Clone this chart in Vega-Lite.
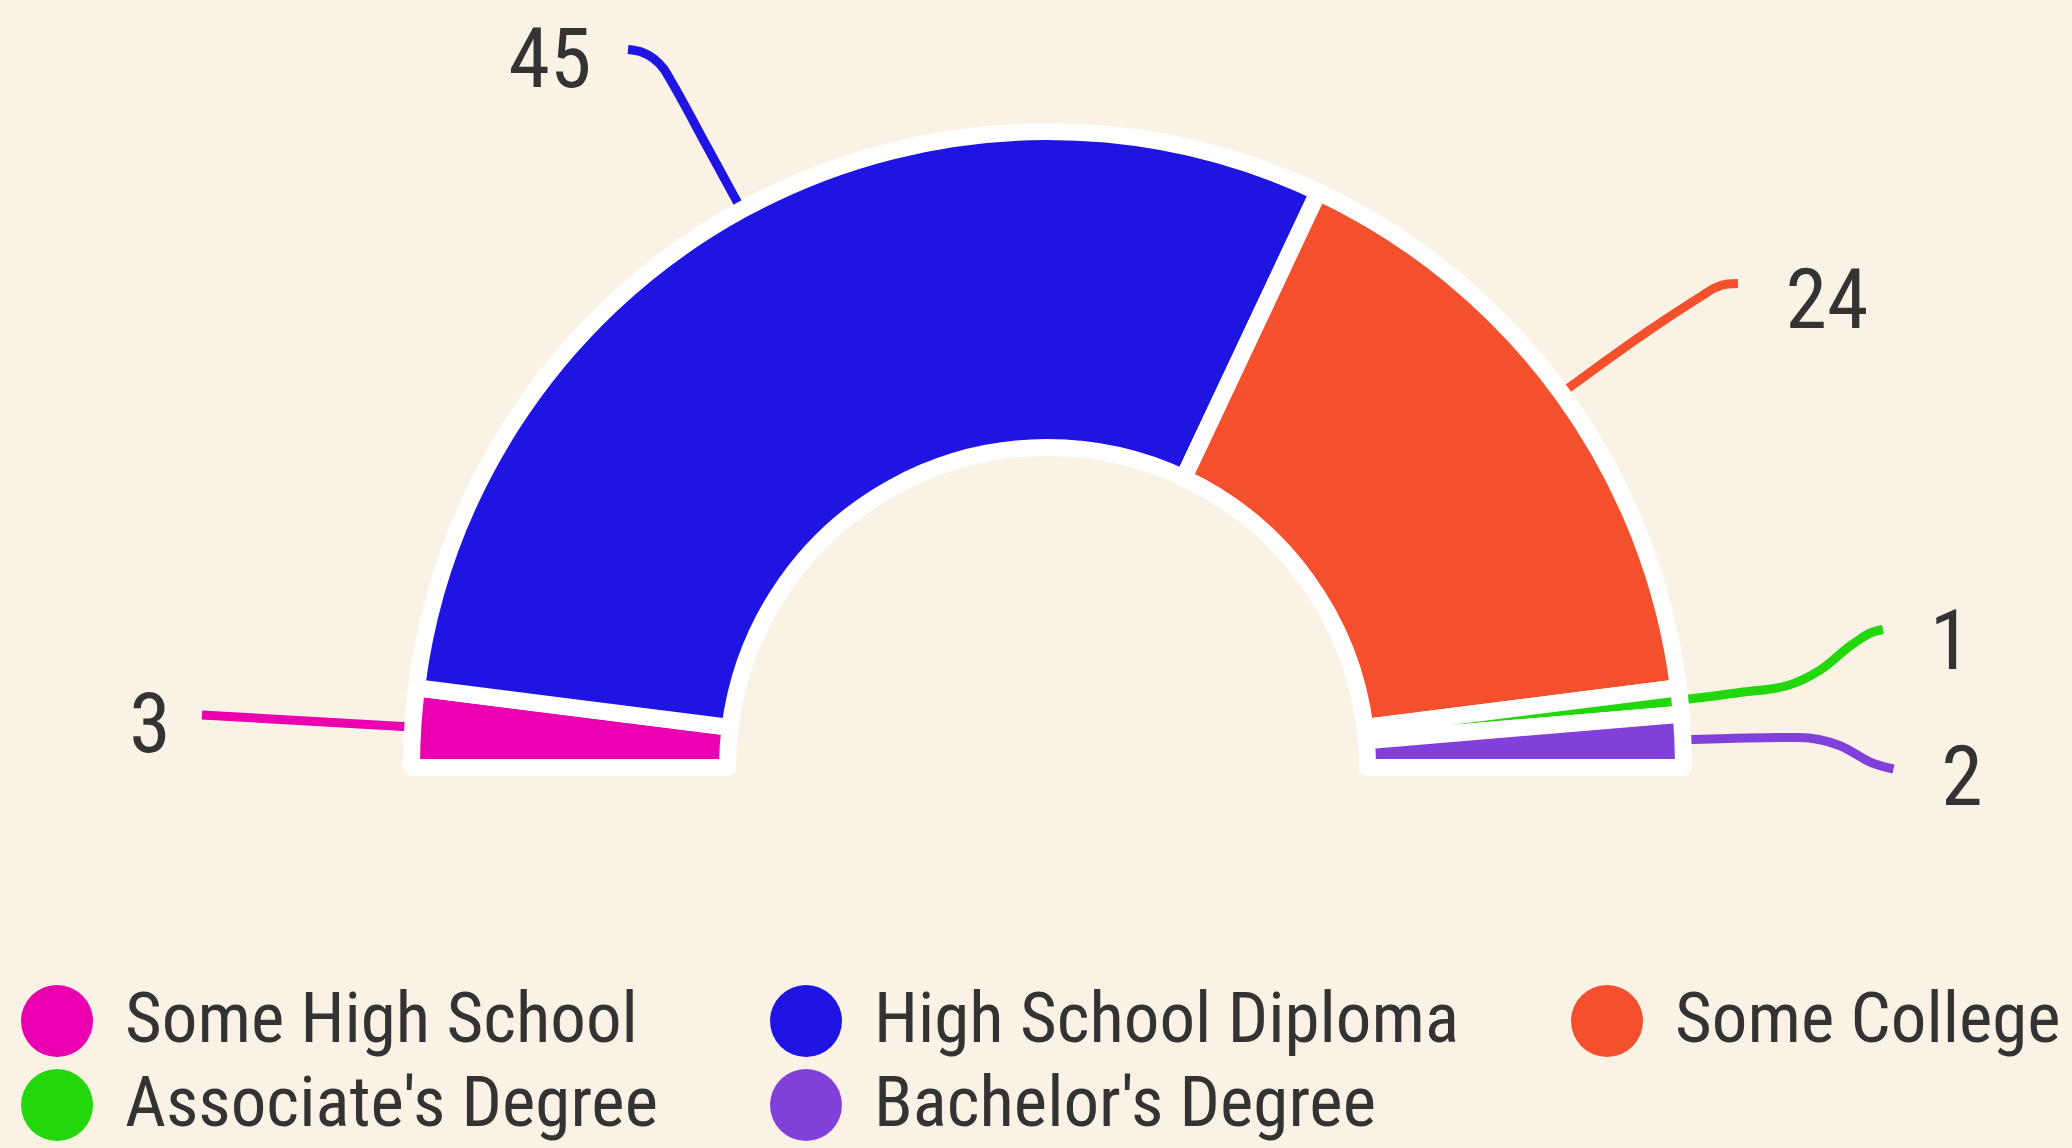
{
  "$schema": "https://vega.github.io/schema/vega-lite/v6.json",
  "width": 2072,
  "height": 1148,
  "padding": 0,
  "autosize": {"type": "none"},
  "background": "#FAF2E4",
  "config": {
    "view": {"stroke": null},
    "font": "'Roboto Condensed', 'Liberation Sans Narrow', Roboto, sans-serif"
  },
  "datasets": {
    "segments": [
      {"level": "Some High School", "count": 3, "rank": 1},
      {"level": "High School Diploma", "count": 45, "rank": 2},
      {"level": "Some College", "count": 24, "rank": 3},
      {"level": "Associate's Degree", "count": 1, "rank": 4},
      {"level": "Bachelor's Degree", "count": 2, "rank": 5}
    ],
    "leaders": [
      {"level": "Some High School", "x": -845.5, "y": 52.5},
      {"level": "Some High School", "x": -636, "y": 40.5},
      {"level": "High School Diploma", "x": -419.5, "y": 718},
      {"level": "High School Diploma", "x": -406, "y": 715.5},
      {"level": "High School Diploma", "x": -394, "y": 709},
      {"level": "High School Diploma", "x": -384, "y": 699},
      {"level": "High School Diploma", "x": -375, "y": 684},
      {"level": "High School Diploma", "x": -340, "y": 620},
      {"level": "High School Diploma", "x": -307.5, "y": 560.5},
      {"level": "Some College", "x": 518.5, "y": 377.5},
      {"level": "Some College", "x": 600, "y": 436},
      {"level": "Some College", "x": 655, "y": 472},
      {"level": "Some College", "x": 668, "y": 480},
      {"level": "Some College", "x": 680, "y": 483.5},
      {"level": "Some College", "x": 690.5, "y": 484},
      {"level": "Associate's Degree", "x": 630, "y": 67},
      {"level": "Associate's Degree", "x": 692.5, "y": 75},
      {"level": "Associate's Degree", "x": 740, "y": 82},
      {"level": "Associate's Degree", "x": 772, "y": 97},
      {"level": "Associate's Degree", "x": 806, "y": 124},
      {"level": "Associate's Degree", "x": 824, "y": 135},
      {"level": "Associate's Degree", "x": 835.5, "y": 138},
      {"level": "Bachelor's Degree", "x": 634, "y": 27.5},
      {"level": "Bachelor's Degree", "x": 700, "y": 29.5},
      {"level": "Bachelor's Degree", "x": 752, "y": 30},
      {"level": "Bachelor's Degree", "x": 792, "y": 22},
      {"level": "Bachelor's Degree", "x": 826, "y": 4},
      {"level": "Bachelor's Degree", "x": 846, "y": -1.5}
    ],
    "labels": [
      {"level": "Some High School", "count": 3, "x": -897.5, "y": 40.5},
      {"level": "High School Diploma", "count": 45, "x": -497.5, "y": 705.5},
      {"level": "Some College", "count": 24, "x": 779.5, "y": 465},
      {"level": "Associate's Degree", "count": 1, "x": 903, "y": 123.5},
      {"level": "Bachelor's Degree", "count": 2, "x": 914.5, "y": -12.5}
    ]
  },
  "resolve": {"scale": {"stroke": "independent"}},
  "layer": [
    {
      "data": {"name": "leaders"},
      "mark": {"type": "line", "strokeWidth": 9, "interpolate": "monotone", "strokeCap": "butt"},
      "encoding": {
        "x": {"field": "x", "type": "quantitative", "scale": {"domain": [-1047.5, 1024.5], "nice": false, "zero": false}, "axis": null},
        "y": {"field": "y", "type": "quantitative", "scale": {"domain": [-380.5, 767.5], "nice": false, "zero": false}, "axis": null},
        "stroke": {
          "field": "level",
          "type": "nominal",
          "scale": {
            "domain": ["Some High School", "High School Diploma", "Some College", "Associate's Degree", "Bachelor's Degree"],
            "range": ["#EA00B0", "#1F15E3", "#F5502D", "#22D80C", "#8240DA"]
          },
          "legend": null
        }
      }
    },
    {
      "data": {"name": "segments"},
      "mark": {"type": "arc", "outerRadius": 636, "innerRadius": 320, "stroke": "white", "strokeWidth": 17, "strokeJoin": "round"},
      "encoding": {
        "x": {"datum": 0, "type": "quantitative"},
        "y": {"datum": 0, "type": "quantitative"},
        "theta": {"field": "count", "type": "quantitative", "stack": true, "scale": {"domain": [0, 75], "range": [-1.5708, 1.5708]}},
        "order": {"field": "rank", "type": "quantitative"},
        "color": {
          "field": "level",
          "type": "nominal",
          "sort": null,
          "scale": {
            "domain": ["Some High School", "High School Diploma", "Some College", "Associate's Degree", "Bachelor's Degree"],
            "range": ["#EA00B0", "#1F15E3", "#F5502D", "#22D80C", "#8240DA"]
          },
          "legend": {
            "orient": "none",
            "legendX": 21,
            "legendY": 985,
            "direction": "horizontal",
            "columns": 3,
            "title": null,
            "symbolType": "circle",
            "symbolSize": 5184,
            "symbolStrokeWidth": 0,
            "symbolOpacity": 1,
            "labelFontSize": 71,
            "labelColor": "#333333",
            "labelOffset": 32,
            "labelLimit": 0,
            "rowPadding": 12,
            "columnPadding": 112
          }
        }
      }
    },
    {
      "data": {"name": "labels"},
      "mark": {"type": "text", "fontSize": 84, "color": "#333333", "align": "center", "baseline": "middle"},
      "encoding": {
        "x": {"field": "x", "type": "quantitative"},
        "y": {"field": "y", "type": "quantitative"},
        "text": {"field": "count", "type": "quantitative"}
      }
    }
  ]
}
